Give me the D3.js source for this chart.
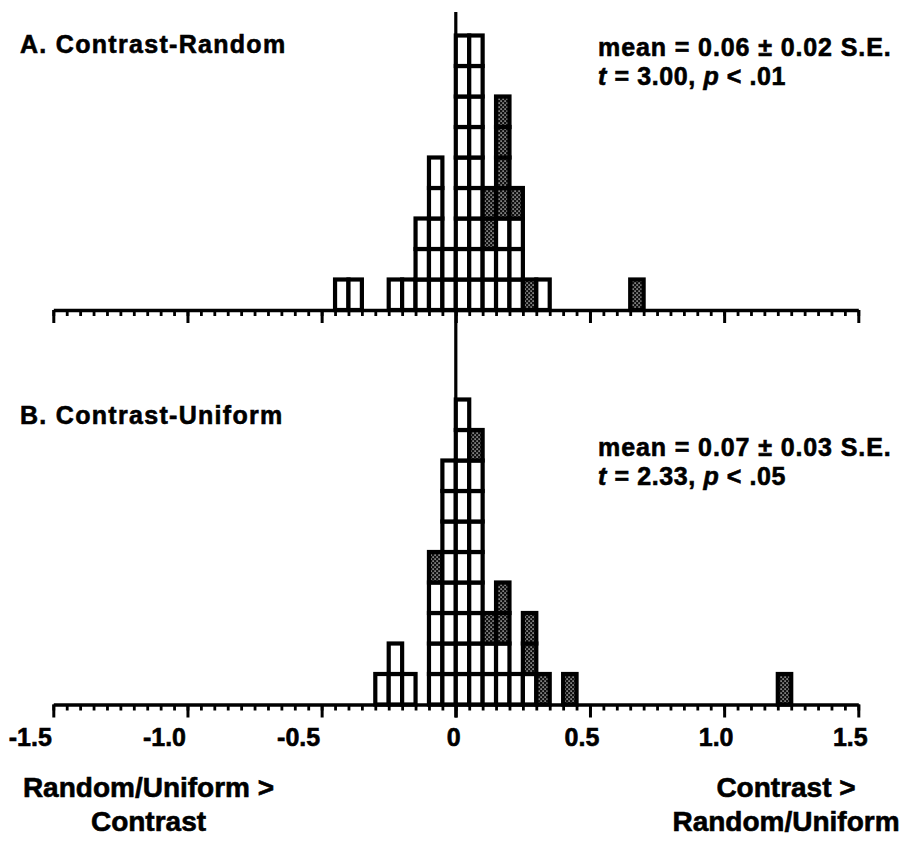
<!DOCTYPE html>
<html>
<head>
<meta charset="utf-8">
<script src="https://cdn.jsdelivr.net/npm/d3@7/dist/d3.min.js"></script>
<style>
  html, body { margin: 0; padding: 0; background: #fff; }
  svg { display: block; }
  text { font-family: "Liberation Sans", Arial, Helvetica, sans-serif; font-weight: bold; fill: #000; stroke: #000; stroke-width: 0.6px; }
</style>
</head>
<body>
<svg id="chart" width="905" height="842"></svg>
<script>
// ---------- data ----------
const binWidth = 0.05;
// Panel A: Contrast-Random (bin start values, count of plain boxes, count of shaded boxes)
const binsA  = [-0.45, -0.40, -0.25, -0.20, -0.15, -0.10, -0.05, 0.00, 0.05, 0.10, 0.15, 0.20, 0.25, 0.30, 0.65];
const whiteA = [1, 1, 1, 1, 3, 5, 2, 9, 9, 2, 3, 3, 0, 1, 0];
const darkA  = [0, 0, 0, 0, 0, 0, 0, 0, 0, 2, 4, 1, 1, 0, 1];
// Panel B: Contrast-Uniform
const binsB  = [-0.30, -0.25, -0.20, -0.10, -0.05, 0.00, 0.05, 0.10, 0.15, 0.20, 0.25, 0.30, 0.40, 1.20];
const whiteB = [1, 2, 1, 4, 8, 10, 8, 2, 2, 1, 1, 0, 0, 0];
const darkB  = [0, 0, 0, 1, 0, 0, 1, 1, 2, 0, 2, 1, 1, 1];

const panelTitles = ["A. Contrast-Random", "B. Contrast-Uniform"];
const meanLines   = ["mean = 0.06 \u00B1 0.02 S.E.", "mean = 0.07 \u00B1 0.03 S.E."];
const tValues     = ["3.00", "2.33"];
const pValues     = [".01", ".05"];
const majorTicks  = [-1.5, -1.0, -0.5, 0, 0.5, 1.0, 1.5];
const tickLabels  = ["-1.5", "-1.0", "-0.5", "0", "0.5", "1.0", "1.5"];
const footLeft    = ["Random/Uniform >", "Contrast"];
const footRight   = ["Contrast >", "Random/Uniform"];

// ---------- layout ----------
const svg = d3.select("#chart");
const x = d3.scaleLinear().domain([-1.5, 1.5]).range([53.3, 858.3]);
const boxH = 30.5;

const defs = svg.append("defs");
const pat = defs.append("pattern").attr("id", "stipple")
  .attr("patternUnits", "userSpaceOnUse").attr("width", 4).attr("height", 4);
pat.append("rect").attr("width", 4).attr("height", 4).attr("fill", "#111");
pat.append("rect").attr("x", 0.4).attr("y", 0.4).attr("width", 1.4).attr("height", 1.4).attr("fill", "#c0c0c0");
pat.append("rect").attr("x", 2.4).attr("y", 2.4).attr("width", 1.4).attr("height", 1.4).attr("fill", "#c0c0c0");

const minorTicks = d3.range(-30, 31).map(i => i * 0.05);

const panels = [
  { bins: binsA, white: whiteA, dark: darkA, base: 310,   titleY: 53,  meanY: 56,  tY: 85 },
  { bins: binsB, white: whiteB, dark: darkB, base: 704.5, titleY: 424, meanY: 456, tY: 485 }
];

// zero reference line spanning both panels
svg.append("line")
  .attr("x1", x(0)).attr("x2", x(0))
  .attr("y1", 12).attr("y2", panels[1].base + 13)
  .attr("stroke", "#000").attr("stroke-width", 3.2);

panels.forEach((p, pi) => {
  const y = d3.scaleLinear().domain([0, 10]).range([p.base, p.base - 10 * boxH]);
  const boxes = [];
  p.bins.forEach((b, i) => {
    const total = p.white[i] + p.dark[i];
    for (let k = 0; k < total; k++) {
      boxes.push({ x0: b, level: k, shaded: k >= p.white[i] });
    }
  });
  const g = svg.append("g");
  g.selectAll("rect.box").data(boxes).join("rect")
    .attr("class", "box")
    .attr("x", d => x(d.x0))
    .attr("width", d => x(d.x0 + binWidth) - x(d.x0))
    .attr("y", d => y(d.level + 1))
    .attr("height", d => y(d.level) - y(d.level + 1))
    .attr("fill", d => d.shaded ? "url(#stipple)" : "#fff")
    .attr("stroke", "#000")
    .attr("stroke-width", 4.2);

  // axis: minor ticks
  const axMinor = d3.axisBottom(x).tickValues(minorTicks).tickSize(6).tickSizeOuter(0).tickFormat("");
  const gMinor = svg.append("g").attr("transform", `translate(0,${p.base})`).call(axMinor);
  gMinor.select(".domain").attr("stroke", "#000").attr("stroke-width", 3.6);
  gMinor.selectAll(".tick line").attr("stroke", "#000").attr("stroke-width", 2.8);

  // axis: major ticks
  const axMajor = d3.axisBottom(x).tickValues(majorTicks).tickSize(13).tickSizeOuter(0)
    .tickFormat((d, i) => tickLabels[i]);
  const gMajor = svg.append("g").attr("transform", `translate(0,${p.base})`).call(axMajor);
  gMajor.select(".domain").remove();
  gMajor.selectAll(".tick line").attr("stroke", "#000").attr("stroke-width", 3);
  gMajor.selectAll(".tick text").remove();
  if (pi === 1) {
    svg.append("g").selectAll("text").data(majorTicks).join("text")
      .attr("x", d => x(d) + (d < 0 ? -23 : d > 0 ? -8 : -2))
      .attr("y", p.base + 41)
      .attr("text-anchor", "middle")
      .style("font-size", "25px")
      .text((d, i) => tickLabels[i]);
  }

  // titles
  svg.append("text").attr("x", 20).attr("y", p.titleY)
    .style("font-size", "25px").style("letter-spacing", "1.3px")
    .text(panelTitles[pi]);
  svg.append("text").attr("x", 598).attr("y", p.meanY)
    .style("font-size", "25px").style("letter-spacing", "0.9px")
    .text(meanLines[pi]);
  const t = svg.append("text").attr("x", 598).attr("y", p.tY)
    .style("font-size", "25px").style("letter-spacing", "0.6px");
  t.append("tspan").style("font-style", "italic").text("t");
  t.append("tspan").text(" = " + tValues[pi] + ", ");
  t.append("tspan").style("font-style", "italic").text("p");
  t.append("tspan").text(" < " + pValues[pi]);
});

// footer labels
footLeft.forEach((s, i) => {
  svg.append("text").attr("x", 148.5).attr("y", 797 + i * 34)
    .attr("text-anchor", "middle").style("font-size", "28px").text(s);
});
footRight.forEach((s, i) => {
  svg.append("text").attr("x", 786).attr("y", 797 + i * 34)
    .attr("text-anchor", "middle").style("font-size", "28px").text(s);
});
</script>
</body>
</html>
